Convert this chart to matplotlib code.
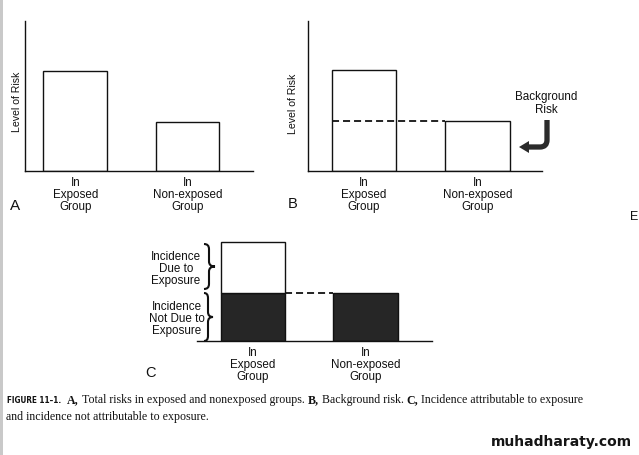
import matplotlib
matplotlib.use("Agg")
import matplotlib.pyplot as plt
from matplotlib.patches import PathPatch, Polygon, Rectangle
from matplotlib.path import Path

W, H = 639, 456

# data (arbitrary risk units, baseline = 0)
groups = ["In\nExposed\nGroup", "In\nNon-exposed\nGroup"]
risk_a = [100, 49]        # A: total risk per group
risk_b = [101, 50]        # B: total risk per group
background_b = 50         # B: background risk (dashed line)
total_c = [99, 48]        # C: total incidence per group
background_c = 48         # C: incidence not due to exposure

SANS = "Liberation Sans"
SERIF = "Liberation Serif"
INK = "#111111"
DARK = "#262626"
BAR_W = 0.57
LS = 1.02

fig = plt.figure(figsize=(W / 100, H / 100), dpi=100)
fig.patch.set_facecolor("white")


def px_axes(x0, y0, x1, y1):
    # axes placed by pixel box (top-left origin)
    return fig.add_axes([x0 / W, 1 - y1 / H, (x1 - x0) / W, (y1 - y0) / H])


def style_axes(ax, xlim, left=True):
    ax.set_xlim(*xlim)
    ax.set_ylim(0, 150)
    ax.patch.set_alpha(0)
    ax.spines["top"].set_visible(False)
    ax.spines["right"].set_visible(False)
    ax.spines["left"].set_visible(left)
    for s in ("left", "bottom"):
        ax.spines[s].set_linewidth(1.0)
        ax.spines[s].set_color(INK)
    ax.set_yticks([])
    ax.set_xticks([0, 1])
    ax.set_xticklabels(groups, fontsize=8.4, family=SANS, linespacing=LS, color=INK)
    ax.tick_params(axis="x", length=0, pad=3.5)


# Panel A
ax_a = px_axes(25, 22, 253, 172)
style_axes(ax_a, (-0.45, 1.585))
ax_a.bar([0, 1], risk_a, width=BAR_W, color="white", edgecolor=INK, linewidth=1.0)

# Panel B
ax_b = px_axes(308, 22, 542, 172)
style_axes(ax_b, (-0.493, 1.568))
ax_b.bar([0, 1], risk_b, width=BAR_W, color="white", edgecolor=INK, linewidth=1.0)
ax_b.hlines(background_b, 0 - BAR_W / 2, 1 - BAR_W / 2, colors=INK,
            linewidth=1.3, linestyles=(0, (3.9, 2.2)))

# Panel C
ax_c = px_axes(197, 192, 432, 342)
style_axes(ax_c, (-0.498, 1.591), left=False)
ax_c.bar([0, 1], [background_c, total_c[1]], width=BAR_W, color=DARK,
         edgecolor=INK, linewidth=1.0)
ax_c.bar([0], [total_c[0] - background_c], bottom=background_c, width=BAR_W,
         color="white", edgecolor=INK, linewidth=1.0)
ax_c.hlines(background_c, 0 + BAR_W / 2, 1 - BAR_W / 2, colors=INK,
            linewidth=1.3, linestyles=(0, (3.9, 2.2)))

# overlay in pixel coordinates for annotations
ov = fig.add_axes([0, 0, 1, 1], zorder=5)
ov.set_xlim(0, W)
ov.set_ylim(H, 0)
ov.axis("off")
ov.patch.set_alpha(0)

# scan shadow on the left edge
ov.add_patch(Rectangle((0, 0), 3, H, color="#c9c9c9", lw=0))

ov.text(16.5, 102, "Level of Risk", rotation=90, ha="center", va="center",
        fontsize=7.6, family=SANS, color=INK)
ov.text(293, 104, "Level of Risk", rotation=90, ha="center", va="center",
        fontsize=7.6, family=SANS, color=INK)

ov.text(15, 206, "A", ha="center", va="center", fontsize=11, family=SANS, color=INK)
ov.text(293, 204, "B", ha="center", va="center", fontsize=10.5, family=SANS, color=INK)
ov.text(150, 373, "C", ha="center", va="center", fontsize=10.5, family=SANS, color=INK)

ov.text(546.5, 103.5, "Background\nRisk", ha="center", va="center", fontsize=8.4,
        family=SANS, linespacing=LS, color=INK)

# thick bent arrow pointing at the background level
stem = Path([(547, 121), (547, 141), (547, 148), (540, 148), (528, 148)],
            [Path.MOVETO, Path.LINETO, Path.CURVE3, Path.CURVE3, Path.LINETO])
ov.add_patch(PathPatch(stem, fill=False, edgecolor="#2b2b2b", linewidth=3.8,
                       capstyle="butt", joinstyle="round"))
ov.add_patch(Polygon([(519, 148), (529, 142), (529, 154)], closed=True,
                     color="#2b2b2b", lw=0))


def brace(xs, y0, y1, xt, xe, r=5):
    ym = (y0 + y1) / 2
    verts = [(xe, y0), (xs, y0), (xs, y0 + r), (xs, ym - r), (xs, ym), (xt, ym),
             (xs, ym), (xs, ym + r), (xs, y1 - r), (xs, y1), (xe, y1)]
    codes = [Path.MOVETO, Path.CURVE3, Path.CURVE3, Path.LINETO, Path.CURVE3,
             Path.CURVE3, Path.CURVE3, Path.CURVE3, Path.LINETO, Path.CURVE3,
             Path.CURVE3]
    ov.add_patch(PathPatch(Path(verts, codes), fill=False, edgecolor=INK,
                           linewidth=1.5))


brace(209, 245, 290, 215, 204)
brace(208, 294, 342, 213, 204)

ov.text(176, 269, "Incidence\nDue to\nExposure", ha="center", va="center",
        fontsize=8.4, family=SANS, linespacing=LS, color=INK)
ov.text(177, 319, "Incidence\nNot Due to\nExposure", ha="center", va="center",
        fontsize=8.4, family=SANS, linespacing=LS, color=INK)

# caption, drawn piece by piece
renderer = fig.canvas.get_renderer()


def width_px(t):
    return t.get_window_extent(renderer).width


def chain(x, y, txt, kw):
    t = ov.text(x, y, txt, va="baseline", ha="left", color=INK, **kw)
    return x + width_px(t)


reg = dict(family=SERIF, fontsize=8.6)
bold = dict(family=SERIF, fontsize=8.6, fontweight="bold")
probe = ov.text(0, 0, "x x", **reg)
probe2 = ov.text(0, 0, "xx", **reg)
sp = width_px(probe) - width_px(probe2)
probe.remove()
probe2.remove()

ov.text(7, 403.5, "FIGURE 11\u20131.", va="baseline", ha="left", color=INK,
        family="DejaVu Sans", fontstretch="condensed", fontsize=5.9,
        fontweight="bold")
y1 = 403.5
x = chain(67, y1, "A,", bold) + sp
x = chain(x, y1, "Total risks in exposed and nonexposed groups.", reg) + sp
x = chain(x, y1, "B,", bold) + sp
x = chain(x, y1, "Background risk.", reg) + sp
x = chain(x, y1, "C,", bold) + sp
chain(x, y1, "Incidence attributable to exposure", reg)
ov.text(6, 420, "and incidence not attributable to exposure.", va="baseline",
        ha="left", color=INK, **reg)

ov.text(561, 442, "muhadharaty.com", ha="center", va="center", fontsize=10,
        fontweight="bold", family="DejaVu Sans", color="#151515")
ov.text(630, 217, "E", ha="left", va="center", fontsize=9, family=SANS, color=INK)

fig.savefig("out.png", dpi=100)
